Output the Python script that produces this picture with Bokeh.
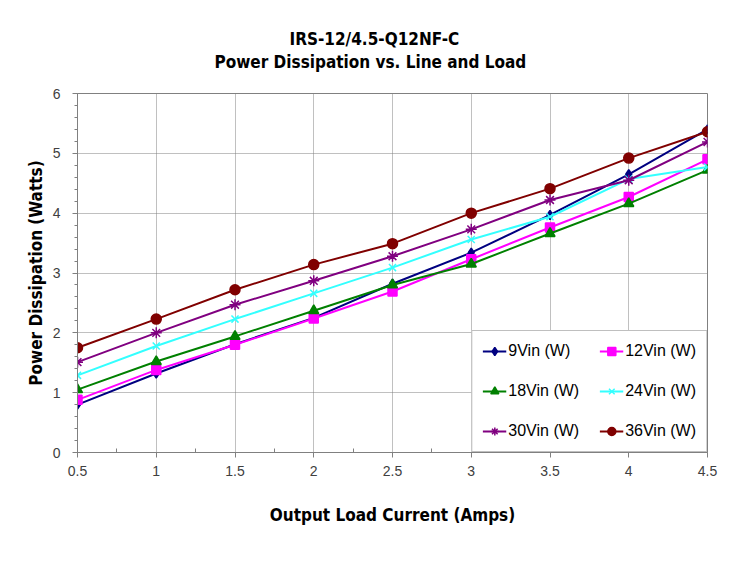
from bokeh.plotting import figure
from bokeh.models import Title, Legend, LegendItem, FixedTicker, Range1d
from bokeh.embed import file_html
from bokeh.resources import INLINE

# ---- data ----
load_amps = [0.5, 1.0, 1.5, 2.0, 2.5, 3.0, 3.5, 4.0, 4.5]
vin_9 = [0.80, 1.32, 1.81, 2.25, 2.82, 3.34, 3.97, 4.65, 5.40]
vin_12 = [0.88, 1.38, 1.80, 2.24, 2.69, 3.23, 3.76, 4.27, 4.90]
vin_18 = [1.05, 1.52, 1.94, 2.37, 2.80, 3.15, 3.66, 4.16, 4.72]
vin_24 = [1.29, 1.78, 2.23, 2.66, 3.09, 3.56, 3.94, 4.57, 4.77]
vin_30 = [1.51, 2.00, 2.47, 2.87, 3.28, 3.73, 4.22, 4.55, 5.19]
vin_36 = [1.75, 2.23, 2.72, 3.14, 3.49, 4.00, 4.41, 4.92, 5.36]
series_labels = ["9Vin (W)", "12Vin (W)", "18Vin (W)", "24Vin (W)", "30Vin (W)", "36Vin (W)"]
x_ticks = [0.5, 1.0, 1.5, 2.0, 2.5, 3.0, 3.5, 4.0, 4.5]
x_tick_labels = ["0.5", "1", "1.5", "2", "2.5", "3", "3.5", "4", "4.5"]
y_ticks = [0, 1, 2, 3, 4, 5, 6]
title_main = "IRS-12/4.5-Q12NF-C"
title_sub = "Power Dissipation vs. Line and Load"
x_label = "Output Load Current (Amps)"
y_label = "Power Dissipation (Watts)"

BOLD_FONT = "'DejaVu Sans Condensed', sans-serif"
REG_FONT = "'Liberation Sans', Arial, sans-serif"

p = figure(width=736, height=564, output_backend="svg", toolbar_location=None,
           x_range=Range1d(0.5, 4.5), y_range=Range1d(0, 6),
           min_border_left=77, min_border_right=29, min_border_top=93,
           min_border_bottom=112, background_fill_color="white",
           border_fill_color="white", outline_line_color="#808080")

# titles: sub line next to the frame, main line pulled down with a negative standoff
sub = Title(text=title_sub, align="left", offset=137, vertical_align="bottom",
            standoff=44, text_font=BOLD_FONT, text_font_size="17px",
            text_font_style="bold", text_color="#000000")
main = Title(text=title_main, align="left", offset=212, vertical_align="bottom",
             standoff=-42, text_font=BOLD_FONT, text_font_size="17px",
             text_font_style="bold", text_color="#000000")
p.add_layout(sub, "above")
p.add_layout(main, "above")

# axes
p.xaxis.ticker = FixedTicker(ticks=x_ticks, minor_ticks=[0.75 + 0.5 * i for i in range(8)])
p.xaxis.major_label_overrides = {t: l for t, l in zip(x_ticks, x_tick_labels)}
p.yaxis.ticker = FixedTicker(ticks=y_ticks, minor_ticks=[i * 0.2 for i in range(31)])
for ax in (p.xaxis[0], p.yaxis[0]):
    ax.axis_line_color = "#808080"
    ax.major_tick_line_color = "#808080"
    ax.minor_tick_line_color = "#808080"
    ax.major_label_text_font = REG_FONT
    ax.major_label_text_font_size = "14px"
    ax.major_label_text_color = "#404040"
    ax.axis_label_text_font = BOLD_FONT
    ax.axis_label_text_font_size = "17px"
    ax.axis_label_text_font_style = "bold"
    ax.axis_label_text_color = "#000000"
    ax.major_tick_in = 0
    ax.major_tick_out = 5

p.xaxis.axis_label = x_label
p.yaxis.axis_label = y_label
p.xaxis.major_label_standoff = 8
p.yaxis.major_label_standoff = 12
p.xaxis.minor_tick_in = 4
p.xaxis.minor_tick_out = 0
p.yaxis.minor_tick_in = 0
p.yaxis.minor_tick_out = 3
p.xaxis.axis_label_standoff = 26
p.yaxis.axis_label_standoff = 4

p.grid.grid_line_color = "#808080"
p.grid.grid_line_dash = "1 1"
p.grid.grid_line_width = 1

series = [vin_9, vin_12, vin_18, vin_24, vin_30, vin_36]
colors = ["#000080", "#FF00FF", "#008000", "#33FFFF", "#800080", "#800000"]
markers = ["diamond", "square", "triangle", "x", "asterisk", "circle"]
sizes = [9, 9, 10, 10, 11, 10]

items = {}
for ys, c, m, s, lab in zip(series, colors, markers, sizes, series_labels):
    ln = p.line(load_amps, ys, line_color=c, line_width=2)
    sc = p.scatter(load_amps, ys, marker=m, size=s, fill_color=c, line_color=c, line_width=1.5)
    items[lab] = LegendItem(label=lab, renderers=[ln, sc])

# legend fills column by column: order so that rows read 9/12, 18/24, 30/36
legend_order = [series_labels[i] for i in (0, 2, 4, 1, 3, 5)]
legend = Legend(items=[items[k] for k in legend_order], location="bottom_right", ncols=2,
                margin=0, padding=10, spacing=20, glyph_height=20, glyph_width=24,
                label_height=20, label_standoff=2, label_text_font=REG_FONT,
                label_text_font_size="16px", label_text_color="#000000",
                border_line_color="#808080", background_fill_color="white",
                background_fill_alpha=1.0)
p.add_layout(legend, "center")

open("out.html", "w").write(file_html(p, INLINE))
